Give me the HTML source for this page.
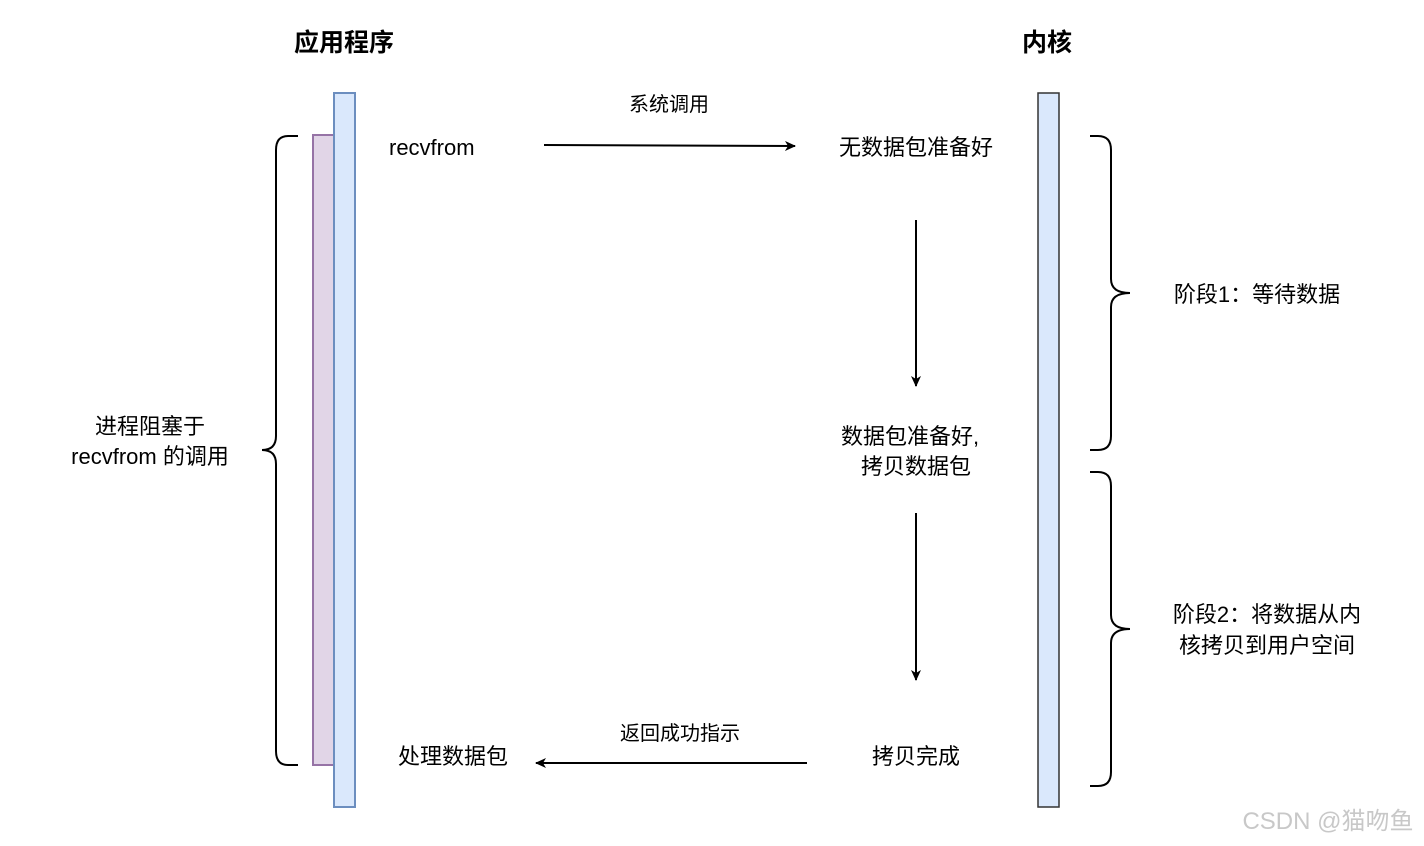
<html><body style="margin:0;background:#fff">
<svg width="1424" height="846" xmlns="http://www.w3.org/2000/svg" style="font-family:'Liberation Sans','Noto Sans CJK SC',sans-serif">
<defs><marker id="a" markerWidth="12" markerHeight="12" refX="10" refY="5" orient="auto" markerUnits="userSpaceOnUse"><path d="M0,0 L11,5 L0,10 L3,5 Z" fill="#000"/></marker></defs>
<text x="344" y="51" font-size="25" font-weight="bold" text-anchor="middle">应用程序</text>
<text x="1047" y="51" font-size="25" font-weight="bold" text-anchor="middle">内核</text>
<rect x="313" y="135" width="21" height="630" fill="#e1d5e7" stroke="#9673a6" stroke-width="2"/>
<rect x="334" y="93" width="21" height="714" fill="#dae8fc" stroke="#6c8ebf" stroke-width="2"/>
<rect x="1038" y="93" width="21" height="714" fill="#dae8fc" stroke="#333" stroke-width="1.5"/>
<g fill="none" stroke="#000" stroke-width="2">
<path d="M298,136 H288 Q276,136 276,150 V436 Q276,450 262,450 Q276,450 276,464 V751 Q276,765 288,765 H298"/>
<path d="M1090,136 H1098 Q1111,136 1111,150 V279 Q1111,293 1130,293 Q1111,293 1111,307 V436 Q1111,450 1098,450 H1090"/>
<path d="M1090,472 H1098 Q1111,472 1111,486 V615 Q1111,629 1130,629 Q1111,629 1111,643 V772 Q1111,786 1098,786 H1090"/>
<path d="M544,145 L795,146" marker-end="url(#a)"/>
<path d="M916,220 V386" marker-end="url(#a)"/>
<path d="M916,513 V680" marker-end="url(#a)"/>
<path d="M807,763 H536" marker-end="url(#a)"/>
</g>
<g font-size="22" fill="#000">
<text x="389" y="155">recvfrom</text>
<text x="669" y="111" font-size="20" text-anchor="middle">系统调用</text>
<text x="916" y="155" text-anchor="middle">无数据包准备好</text>
<text x="910" y="444" text-anchor="middle">数据包准备好,</text>
<text x="916" y="474" text-anchor="middle">拷贝数据包</text>
<text x="916" y="764" text-anchor="middle">拷贝完成</text>
<text x="680" y="740" font-size="20" text-anchor="middle">返回成功指示</text>
<text x="453" y="764" text-anchor="middle">处理数据包</text>
<text x="150" y="434" text-anchor="middle">进程阻塞于</text>
<text x="150" y="464" text-anchor="middle">recvfrom 的调用</text>
<text x="1257" y="302" text-anchor="middle">阶段1：等待数据</text>
<text x="1267" y="622" text-anchor="middle">阶段2：将数据从内</text>
<text x="1267" y="653" text-anchor="middle">核拷贝到用户空间</text>
<text x="1328" y="829" font-size="24" fill="#c8c8c8" text-anchor="middle">CSDN @猫吻鱼</text>
</g>
</svg>
</body></html>
